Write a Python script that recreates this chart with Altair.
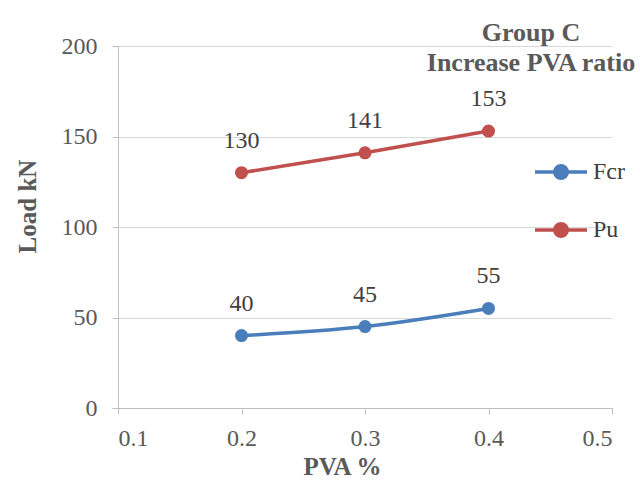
import altair as alt
import pandas as pd

pva = [0.2, 0.3, 0.4]
fcr = [40, 45, 55]
pu = [130, 141, 153]
series_names = ["Fcr", "Pu"]
colors = ["#4A7EBB", "#C0504D"]

rows = []
for x, v in zip(pva, fcr):
    rows.append({"PVA": x, "Load": v, "Series": "Fcr"})
for x, v in zip(pva, pu):
    rows.append({"PVA": x, "Load": v, "Series": "Pu"})
df = pd.DataFrame(rows)

FONT = "Liberation Serif"

xenc = alt.X("PVA:Q", scale=alt.Scale(domain=[0.1, 0.5], nice=False),
             axis=alt.Axis(values=[0.1, 0.2, 0.3, 0.4, 0.5], format=".1f",
                           title="PVA %", grid=False, titleX=224, titleY=58,
                           titleBaseline="middle", labelPadding=12))
yenc = alt.Y("Load:Q", scale=alt.Scale(domain=[0, 200], nice=False),
             axis=alt.Axis(values=[0, 50, 100, 150, 200], title="Load kN",
                           grid=True, titleX=-91, titleY=160, titleBaseline="middle",
                           labelPadding=15))
color = alt.Color("Series:N", scale=alt.Scale(domain=series_names, range=colors),
                  legend=alt.Legend(title=None, orient="none", legendX=415, legendY=98,
                                    symbolType="M-1,0H1M-0.24,0A0.24,0.24 0 1,1 0.24,0A0.24,0.24 0 1,1 -0.24,0Z",
                                    symbolSize=2704, symbolStrokeWidth=3.5,
                                    labelFont=FONT, labelFontSize=24, labelColor="#404040",
                                    rowPadding=16, labelOffset=4))

base = alt.Chart(df)
lines = base.mark_line(strokeWidth=3.5, interpolate="monotone").encode(x=xenc, y=yenc, color=color)
points = base.mark_point(filled=True, size=170, opacity=1).encode(x=xenc, y=yenc, color=color)
labels = base.mark_text(font=FONT, fontSize=24, color="#404040", baseline="middle", dy=-32).encode(
    x=xenc, y=yenc, text="Load:Q")

chart = alt.layer(lines, points, labels).properties(
    width=494, height=362,
    background="white",
    autosize=alt.AutoSizeParams(type="none"),
    padding={"left": 118, "top": 46, "right": 28, "bottom": 72},
    title=alt.TitleParams(["Group C", "Increase PVA ratio"], anchor="start", align="center",
                          frame="group", dx=413, offset=-42, font=FONT, fontSize=26,
                          fontWeight="bold", color="#595959", lineHeight=30),
).configure_axis(
    labelFont=FONT, labelFontSize=24, labelColor="#595959",
    titleFont=FONT, titleFontSize=25, titleFontWeight="bold", titleColor="#595959",
    domainColor="#BFBFBF", tickColor="#BFBFBF", gridColor="#D9D9D9", tickSize=6,
).configure_view(stroke=None)

chart.save("out.html", embed_options={"renderer": "svg", "actions": False})
